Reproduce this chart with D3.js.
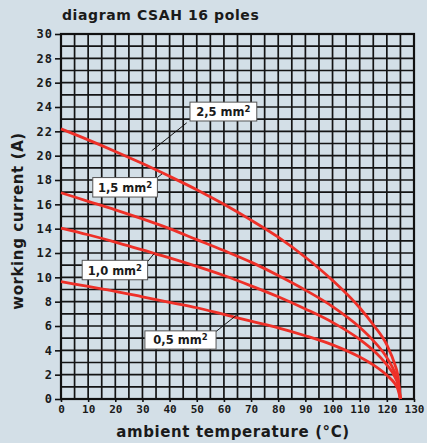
<!DOCTYPE html>
<html>
<head>
<meta charset="utf-8">
<script src="https://cdn.jsdelivr.net/npm/d3@7"></script>
<style>
  body { margin: 0; background: #d3dfe7; }
  svg { display: block; }
  text { font-family: "DejaVu Sans", sans-serif; font-weight: bold; fill: #1a1a1a; }
  .tick-label { font-family: "DejaVu Sans Mono", monospace; }
</style>
</head>
<body>
<svg width="427" height="443"></svg>
<script>
  // temperatures (°C) at which the curves were read
  const temps = [0, 10, 20, 30, 40, 50, 60, 70, 80, 90, 100, 110, 115, 120, 123, 124, 125];
  // working current (A) per cross-section
  const amp25 = [22.2, 21.3, 20.35, 19.35, 18.3, 17.2, 16.0, 14.7, 13.3, 11.65, 9.75, 7.5, 6.1, 4.45, 2.8, 2.0, 0];
  const amp15 = [16.95, 16.25, 15.55, 14.8, 14.0, 13.1, 12.2, 11.25, 10.15, 8.95, 7.6, 5.9, 4.8, 3.4, 2.15, 1.5, 0];
  const amp10 = [14.05, 13.5, 12.9, 12.25, 11.6, 10.9, 10.15, 9.3, 8.4, 7.4, 6.3, 4.9, 4.0, 2.8, 1.8, 1.25, 0];
  const amp05 = [9.65, 9.25, 8.85, 8.4, 7.95, 7.5, 6.95, 6.4, 5.85, 5.2, 4.45, 3.45, 2.8, 1.95, 1.25, 0.85, 0];

  const xTicks = d3.range(0, 131, 10);
  const yTicks = d3.range(0, 31, 2);

  // label boxes: [T left, I top, T right, I bottom], leader [T1, I1, T2, I2]
  const labels = [
    {text: "2,5 mm", box: [47.5, 24.4, 72.1, 22.85], leader: [46.3, 22.7, 33.4, 20.4]},
    {text: "1,5 mm", box: [11.7, 18.2, 35.5, 16.6], leader: [35.5, 18.2, 37.2, 18.5]},
    {text: "1,0 mm", box: [7.8, 11.4, 31.9, 9.8], leader: [31.9, 11.3, 34.3, 11.95]},
    {text: "0,5 mm", box: [30.9, 5.6, 57.1, 4.1], leader: [57.1, 5.55, 64.7, 6.9]}
  ];

  const svg = d3.select("svg"),
        margin = {top: 34, right: 13, bottom: 44, left: 61},
        width = +svg.attr("width"),
        height = +svg.attr("height");

  const x = d3.scaleLinear().domain([0, 130]).range([margin.left, width - margin.right]);
  const y = d3.scaleLinear().domain([0, 30]).range([height - margin.bottom, margin.top]);

  // grid
  const grid = svg.append("g").attr("stroke", "#141414").attr("stroke-width", 1.7);
  grid.selectAll(".vx").data(d3.range(0, 131, 5)).enter().append("line")
    .attr("x1", d => x(d)).attr("x2", d => x(d))
    .attr("y1", y(0)).attr("y2", y(30));
  grid.selectAll(".hy").data(d3.range(0, 31, 1)).enter().append("line")
    .attr("y1", d => y(d)).attr("y2", d => y(d))
    .attr("x1", x(0)).attr("x2", x(130));
  svg.append("rect")
    .attr("x", x(0)).attr("y", y(30))
    .attr("width", x(130) - x(0)).attr("height", y(0) - y(30))
    .attr("fill", "none").attr("stroke", "#111").attr("stroke-width", 2.2);

  // axes
  const xAxis = svg.append("g")
    .attr("transform", `translate(0,${y(0)})`)
    .call(d3.axisBottom(x).tickValues(xTicks).tickSize(3).tickPadding(3));
  const yAxis = svg.append("g")
    .attr("transform", `translate(${x(0)},0)`)
    .call(d3.axisLeft(y).tickValues(yTicks).tickSize(6).tickPadding(2));
  [xAxis, yAxis].forEach(a => {
    a.select(".domain").remove();
    a.selectAll("line").attr("stroke", "#111").attr("stroke-width", 1.6);
    a.selectAll("text").attr("class", "tick-label").attr("fill", "#1a1a1a")
      .style("font-weight", "bold");
  });
  xAxis.selectAll("text").style("font-size", "11px");
  yAxis.selectAll("text").style("font-size", "12px").style("letter-spacing", "1px");

  // curves
  const line = d3.line()
    .x(d => x(d[0])).y(d => y(d[1]))
    .curve(d3.curveMonotoneX);
  [amp25, amp15, amp10, amp05].forEach(s => {
    svg.append("path")
      .datum(temps.map((t, i) => [t, s[i]]))
      .attr("d", line)
      .attr("fill", "none")
      .attr("stroke", "#ee3028")
      .attr("stroke-width", 2.8);
  });

  // label boxes
  labels.forEach(l => {
    svg.append("line")
      .attr("x1", x(l.leader[0])).attr("y1", y(l.leader[1]))
      .attr("x2", x(l.leader[2])).attr("y2", y(l.leader[3]))
      .attr("stroke", "#111").attr("stroke-width", 1);
    const bx = x(l.box[0]), by = y(l.box[1]),
          bw = x(l.box[2]) - bx, bh = y(l.box[3]) - by;
    svg.append("rect")
      .attr("x", bx).attr("y", by).attr("width", bw).attr("height", bh)
      .attr("fill", "#fff").attr("stroke", "#555").attr("stroke-width", 1);
    const t = svg.append("text")
      .attr("x", bx + bw / 2).attr("y", by + bh / 2 + 4.5)
      .attr("text-anchor", "middle")
      .style("font-size", "11.5px");
    t.append("tspan").text(l.text);
    t.append("tspan").attr("dy", -4).style("font-size", "8.5px").text("2");
  });

  // titles
  svg.append("text")
    .attr("x", 62).attr("y", 20)
    .style("font-size", "14px").style("letter-spacing", "0.6px")
    .text("diagram CSAH 16 poles");
  svg.append("text")
    .attr("x", 233).attr("y", 437)
    .attr("text-anchor", "middle")
    .style("font-size", "15px").style("letter-spacing", "0.6px")
    .text("ambient temperature (°C)");
  svg.append("text")
    .attr("transform", "translate(23,221) rotate(-90)")
    .attr("text-anchor", "middle")
    .style("font-size", "15px").style("letter-spacing", "0.6px")
    .text("working current (A)");
</script>
</body>
</html>
